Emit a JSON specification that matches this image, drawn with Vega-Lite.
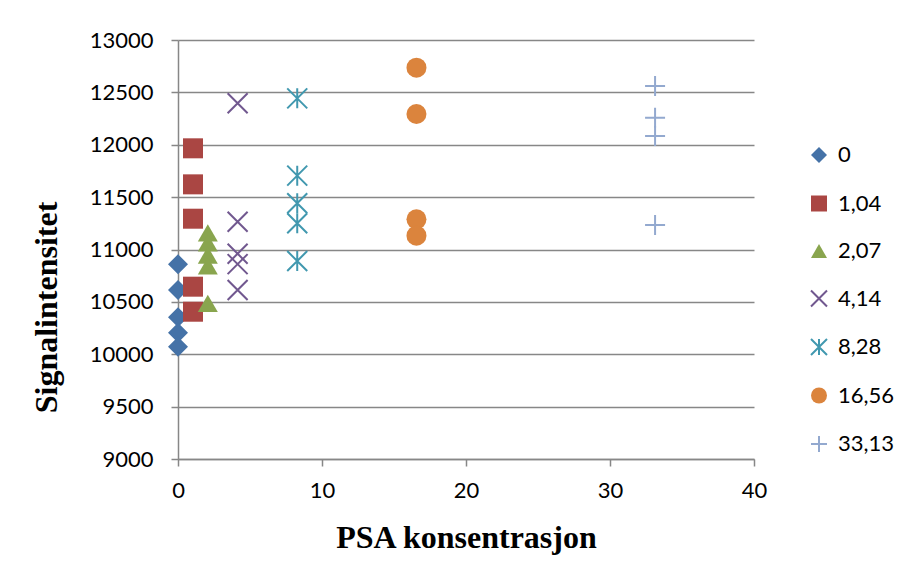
{
  "$schema": "https://vega.github.io/schema/vega-lite/v6.json",
  "autosize": {"type": "none"},
  "padding": {"left": 178, "top": 40, "right": 154, "bottom": 119},
  "width": 576,
  "height": 419,
  "background": "white",
  "data": {
    "values": [
      {"serie": "0", "psa": 0, "signal": 10859},
      {"serie": "0", "psa": 0, "signal": 10613},
      {"serie": "0", "psa": 0, "signal": 10353},
      {"serie": "0", "psa": 0, "signal": 10206},
      {"serie": "0", "psa": 0, "signal": 10072},
      {"serie": "1,04", "psa": 1.04, "signal": 11966},
      {"serie": "1,04", "psa": 1.04, "signal": 11622},
      {"serie": "1,04", "psa": 1.04, "signal": 11294},
      {"serie": "1,04", "psa": 1.04, "signal": 10645},
      {"serie": "1,04", "psa": 1.04, "signal": 10406},
      {"serie": "2,07", "psa": 2.07, "signal": 11158},
      {"serie": "2,07", "psa": 2.07, "signal": 11063},
      {"serie": "2,07", "psa": 2.07, "signal": 10947},
      {"serie": "2,07", "psa": 2.07, "signal": 10843},
      {"serie": "2,07", "psa": 2.07, "signal": 10485},
      {"serie": "4,14", "psa": 4.14, "signal": 12396},
      {"serie": "4,14", "psa": 4.14, "signal": 11265},
      {"serie": "4,14", "psa": 4.14, "signal": 10960},
      {"serie": "4,14", "psa": 4.14, "signal": 10860},
      {"serie": "4,14", "psa": 4.14, "signal": 10613},
      {"serie": "8,28", "psa": 8.28, "signal": 12443},
      {"serie": "8,28", "psa": 8.28, "signal": 11705},
      {"serie": "8,28", "psa": 8.28, "signal": 11441},
      {"serie": "8,28", "psa": 8.28, "signal": 11250},
      {"serie": "8,28", "psa": 8.28, "signal": 10890},
      {"serie": "16,56", "psa": 16.56, "signal": 12736},
      {"serie": "16,56", "psa": 16.56, "signal": 12294},
      {"serie": "16,56", "psa": 16.56, "signal": 11288},
      {"serie": "16,56", "psa": 16.56, "signal": 11132},
      {"serie": "33,13", "psa": 33.13, "signal": 12561},
      {"serie": "33,13", "psa": 33.13, "signal": 12258},
      {"serie": "33,13", "psa": 33.13, "signal": 12084},
      {"serie": "33,13", "psa": 33.13, "signal": 11234}
    ]
  },
  "mark": {"type": "point", "size": 400, "strokeWidth": 2, "opacity": 1},
  "encoding": {
    "x": {
      "field": "psa",
      "type": "quantitative",
      "scale": {"domain": [0, 40], "nice": false, "zero": false},
      "axis": {
        "values": [0, 10, 20, 30, 40],
        "format": "d",
        "labelFlush": false,
        "grid": false,
        "title": "PSA konsentrasjon",
        "titleX": 288,
        "titleY": 88,
        "titleBaseline": "alphabetic",
        "labelPadding": 14
      }
    },
    "y": {
      "field": "signal",
      "type": "quantitative",
      "scale": {"domain": [9000, 13000], "nice": false, "zero": false},
      "axis": {
        "values": [9000, 9500, 10000, 10500, 11000, 11500, 12000, 12500, 13000],
        "format": "d",
        "labelFlush": false,
        "grid": true,
        "title": "Signalintensitet",
        "titleAngle": -90,
        "titleAlign": "center",
        "titleBaseline": "alphabetic",
        "titleX": -122,
        "titleY": 267,
        "labelPadding": 18
      }
    },
    "shape": {
      "field": "serie",
      "type": "nominal",
      "scale": {
        "domain": ["0", "1,04", "2,07", "4,14", "8,28", "16,56", "33,13"],
        "range": [
          "diamond",
          "square",
          "triangle-up",
          "M-1,-1L1,1M-1,1L1,-1",
          "M-1,-1L1,1M-1,1L1,-1M0,-1L0,1",
          "circle",
          "M-1,0L1,0M0,-1L0,1"
        ]
      }
    },
    "fill": {
      "field": "serie",
      "type": "nominal",
      "scale": {
        "domain": ["0", "1,04", "2,07", "4,14", "8,28", "16,56", "33,13"],
        "range": ["#4572A7", "#AA4643", "#89A54E", "transparent", "transparent", "#DB843D", "transparent"]
      }
    },
    "stroke": {
      "field": "serie",
      "type": "nominal",
      "scale": {
        "domain": ["0", "1,04", "2,07", "4,14", "8,28", "16,56", "33,13"],
        "range": ["transparent", "transparent", "transparent", "#71588F", "#4198AF", "transparent", "#93A9CF"]
      }
    }
  },
  "config": {
    "view": {"stroke": null},
    "axis": {
      "labelFont": "Lato",
      "labelFontSize": 22,
      "labelColor": "#000000",
      "titleFont": "Liberation Serif",
      "titleFontSize": 32,
      "titleFontWeight": "bold",
      "titleColor": "#000000",
      "domainColor": "#878787",
      "domainWidth": 1.5,
      "tickColor": "#878787",
      "tickWidth": 1.5,
      "tickSize": 7,
      "gridColor": "#878787",
      "gridWidth": 1.5
    },
    "legend": {
      "orient": "none",
      "legendX": 630,
      "legendY": 104,
      "title": null,
      "padding": 0,
      "labelFont": "Lato",
      "labelFontSize": 22,
      "labelColor": "#000000",
      "symbolSize": 256,
      "symbolStrokeWidth": 2,
      "labelOffset": 8,
      "rowPadding": 24.5
    }
  }
}
